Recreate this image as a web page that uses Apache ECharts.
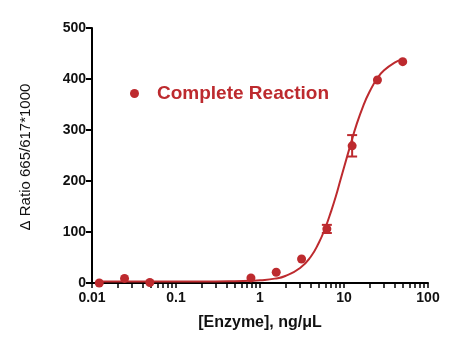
<!DOCTYPE html>
<html><head><meta charset="utf-8">
<script src="https://cdn.jsdelivr.net/npm/echarts@6/dist/echarts.min.js"></script>
<style>html,body{margin:0;padding:0;background:#fff}#c{width:474px;height:347px}</style>
</head><body><div id="c"></div>
<script>
const seriesName = 'Complete Reaction';
const yTitle = 'Δ Ratio 665/617*1000';
const xTitle = '[Enzyme], ng/μL';
const conc = [0.0122, 0.0244, 0.0488, 0.78, 1.56, 3.125, 6.25, 12.5, 25, 50];
const ratio = [0, 9, 1, 10, 21, 47, 106, 269, 398, 434];
const errLow = [null, null, null, null, null, null, 98, 248, null, null];
const errHigh = [null, null, null, null, null, null, 114, 290, null, null];
const curveX = [0.0122, 0.05, 0.2, 0.5, 0.8, 1, 1.5, 2, 3, 4, 5, 6, 7, 8, 9, 10, 12, 14, 17, 20, 25, 30, 40, 50];
const curveY = [3, 3, 3, 3.5, 4.3, 5.2, 8.6, 13.8, 29.4, 51, 78.5, 108.5, 140, 170, 200, 226.5, 272, 309, 348, 374, 402, 417, 432, 439];
const xTicks = [0.01, 0.1, 1, 10, 100];
const xMinorTicks = [0.02,0.03,0.04,0.05,0.06,0.07,0.08,0.09,0.2,0.3,0.4,0.5,0.6,0.7,0.8,0.9,2,3,4,5,6,7,8,9,20,30,40,50,60,70,80,90];
const yTicks = [0, 100, 200, 300, 400, 500];

const RED = '#BD2A2E';
const chart = echarts.init(document.getElementById('c'), null, {renderer: 'canvas'});
const font = 'Liberation Sans, Arial, sans-serif';
chart.setOption({
  animation: false,
  backgroundColor: '#fff',
  grid: {left: 92, right: 46, top: 28, bottom: 64},
  legend: {
    data: [{name: seriesName, icon: 'circle'}],
    left: 125, top: 79, itemWidth: 9, itemHeight: 9,
    textStyle: {color: RED, fontSize: 19, fontWeight: 'bold', fontFamily: font, padding: [0, 0, 0, 13]}
  },
  graphic: [{
    type: 'text', x: 26, y: 157, rotation: Math.PI / 2,
    style: {text: yTitle, fill: '#111', font: '15px ' + font, align: 'center', verticalAlign: 'middle'}
  }],
  xAxis: {
    type: 'log', min: 0.01, max: 100, logBase: 10,
    name: xTitle, nameLocation: 'middle', nameGap: 32,
    nameTextStyle: {color: '#111', fontSize: 16, fontWeight: 'bold', fontFamily: font},
    axisLine: {lineStyle: {color: '#000', width: 2}},
    axisTick: {length: 5, lineStyle: {color: '#000', width: 1.5}, customValues: xTicks.concat(xMinorTicks)},
    axisLabel: {color: '#111', fontSize: 14, fontWeight: 'bold', fontFamily: font, margin: 8, customValues: xTicks,
      formatter: v => String(v)},
    splitLine: {show: false}
  },
  yAxis: {
    type: 'value', min: 0, max: 500, interval: 100,
    axisLine: {show: true, lineStyle: {color: '#000', width: 2}},
    axisTick: {show: true, length: 6, lineStyle: {color: '#000', width: 2}},
    axisLabel: {color: '#111', fontSize: 14, fontWeight: 'bold', fontFamily: font, margin: 6},
    splitLine: {show: false}
  },
  series: [{
    name: 'fit', type: 'line', smooth: true, showSymbol: false, symbol: 'none',
    data: curveX.map((x, i) => [x, curveY[i]]),
    lineStyle: {color: RED, width: 2}, z: 2, legendHoverLink: false
  }, {
    name: seriesName, type: 'scatter', symbol: 'circle', symbolSize: 9,
    data: conc.map((x, i) => [x, ratio[i]]),
    itemStyle: {color: RED, opacity: 1}, z: 3
  }, {
    name: 'err', type: 'custom',
    data: conc.map((x, i) => [x, errLow[i], errHigh[i]]).filter(d => d[1] != null),
    renderItem: (params, api) => {
      const lo = api.coord([api.value(0), api.value(1)]);
      const hi = api.coord([api.value(0), api.value(2)]);
      const w = 5;
      const st = {stroke: RED, lineWidth: 2};
      return {type: 'group', children: [
        {type: 'line', shape: {x1: lo[0], y1: lo[1], x2: hi[0], y2: hi[1]}, style: st},
        {type: 'line', shape: {x1: lo[0]-w, y1: lo[1], x2: lo[0]+w, y2: lo[1]}, style: st},
        {type: 'line', shape: {x1: hi[0]-w, y1: hi[1], x2: hi[0]+w, y2: hi[1]}, style: st}
      ]};
    }, z: 3
  }]
});
</script></body></html>
